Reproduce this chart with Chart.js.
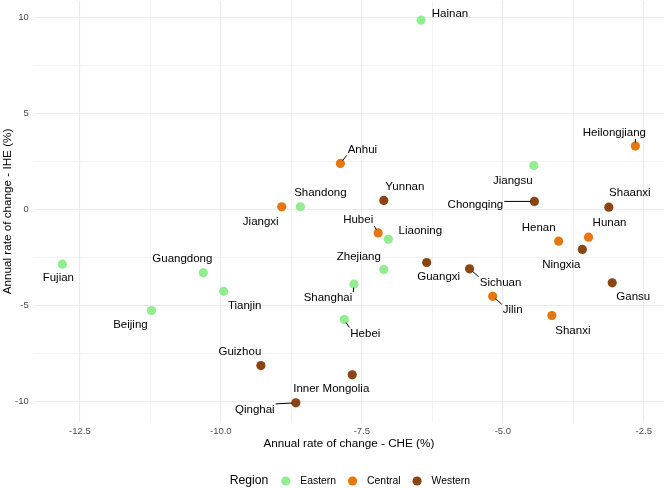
<!DOCTYPE html>
<html>
<head>
<meta charset="utf-8">
<script src="https://cdn.jsdelivr.net/npm/chart.js@4.4.0/dist/chart.umd.min.js"></script>
<style>
  html, body { margin: 0; padding: 0; background: #fff; }
</style>
</head>
<body>
<canvas id="chart" width="666" height="488"></canvas>
<script>
// values
const provinces = ['Hainan', 'Heilongjiang', 'Anhui', 'Jiangsu', 'Yunnan', 'Chongqing', 'Shaanxi',
  'Jiangxi', 'Shandong', 'Hubei', 'Liaoning', 'Henan', 'Hunan', 'Ningxia', 'Fujian', 'Guangdong',
  'Zhejiang', 'Guangxi', 'Sichuan', 'Gansu', 'Shanghai', 'Tianjin', 'Jilin', 'Beijing', 'Shanxi',
  'Hebei', 'Guizhou', 'Inner Mongolia', 'Qinghai'];
const region = ['Eastern', 'Central', 'Central', 'Eastern', 'Western', 'Western', 'Western',
  'Central', 'Eastern', 'Central', 'Eastern', 'Central', 'Central', 'Western', 'Eastern', 'Eastern',
  'Eastern', 'Western', 'Western', 'Western', 'Eastern', 'Eastern', 'Central', 'Eastern', 'Central',
  'Eastern', 'Western', 'Western', 'Western'];
const che = [-6.45, -2.65, -7.88, -4.45, -7.11, -4.44, -3.12,
  -8.92, -8.59, -7.21, -7.03, -4.01, -3.48, -3.59, -12.81, -10.31,
  -7.11, -6.35, -5.59, -3.06, -7.64, -9.95, -5.18, -11.23, -4.13,
  -7.81, -9.29, -7.67, -8.67];
const ihe = [9.86, 3.30, 2.40, 2.29, 0.47, 0.42, 0.12,
  0.14, 0.14, -1.22, -1.55, -1.65, -1.44, -2.08, -2.85, -3.30,
  -3.13, -2.76, -3.09, -3.82, -3.89, -4.26, -4.52, -5.26, -5.52,
  -5.73, -8.13, -8.61, -10.07];

const regionNames = ['Eastern', 'Central', 'Western'];
const regionColors = ['#90EE90', '#E8760F', '#8B4513'];
const xTickLabels = [-12.5, -10, -7.5, -5, -2.5];
const yTickLabels = [-10, -5, 0, 5, 10];

// label placement (pixel offset of text centre from the point), like ggrepel output
const labelOffsets = {
  'Hainan': [29, -6], 'Heilongjiang': [-21, -13, true], 'Anhui': [22, -14, true],
  'Jiangsu': [-21, 15], 'Yunnan': [21, -14], 'Chongqing': [-59, 3, true],
  'Shaanxi': [21, -14], 'Jiangxi': [-21, 15], 'Shandong': [20, -14],
  'Hubei': [-20, -13, true], 'Liaoning': [32, -8], 'Henan': [-20, -13],
  'Hunan': [21, -14], 'Ningxia': [-21, 15], 'Fujian': [-4, 14],
  'Guangdong': [-21, -14], 'Zhejiang': [-25, -13], 'Guangxi': [12, 14],
  'Sichuan': [31, 14, true], 'Gansu': [21, 14], 'Shanghai': [-26, 14, true],
  'Tianjin': [21, 15], 'Jilin': [20, 14, true], 'Beijing': [-21, 14],
  'Shanxi': [21, 15], 'Hebei': [21, 14, true], 'Guizhou': [-21, -14],
  'Inner Mongolia': [-21, 14], 'Qinghai': [-41, 7, true]
};

const FONT = "'Liberation Sans', Arial, sans-serif";
const POINT_R = 4.6;

// ggplot style 5% expansion
function expand(vals) {
  const lo = Math.min(...vals), hi = Math.max(...vals);
  const pad = (hi - lo) * 0.05;
  return [lo - pad, hi + pad];
}
const [xMin, xMax] = expand(che);
const [yMin, yMax] = expand(ihe);

const isIn = (arr, v) => arr.some(t => Math.abs(t - v) < 1e-6);

const datasets = regionNames.map((r, k) => ({
  label: r,
  data: provinces.map((p, i) => ({ x: che[i], y: ihe[i], name: p, reg: region[i] }))
    .filter(d => d.reg === r),
  backgroundColor: regionColors[k],
  borderWidth: 0,
  pointRadius: POINT_R,
  pointHoverRadius: POINT_R
}));

const pointLabels = {
  id: 'pointLabels',
  afterDatasetsDraw(chart) {
    const ctx = chart.ctx;
    ctx.save();
    ctx.font = '11.5px ' + FONT;
    ctx.textAlign = 'center';
    ctx.textBaseline = 'middle';
    chart.data.datasets.forEach((ds, di) => {
      const meta = chart.getDatasetMeta(di);
      meta.data.forEach((el, i) => {
        const name = ds.data[i].name;
        const off = labelOffsets[name] || [0, -12];
        const tx = el.x + off[0], ty = el.y + off[1];
        if (off[2]) {
          const w = ctx.measureText(name).width / 2 + 1;
          const h = 6;
          const sx = Math.max(tx - w, Math.min(el.x, tx + w));
          const sy = Math.max(ty - h, Math.min(el.y, ty + h));
          const dx = el.x - sx, dy = el.y - sy;
          const len = Math.hypot(dx, dy);
          const ex = el.x - dx / len * (POINT_R - 1);
          const ey = el.y - dy / len * (POINT_R - 1);
          ctx.strokeStyle = '#000';
          ctx.lineWidth = 1;
          ctx.beginPath();
          ctx.moveTo(sx, sy);
          ctx.lineTo(ex, ey);
          ctx.stroke();
        }
        ctx.fillStyle = '#000';
        ctx.fillText(name, tx, ty);
      });
    });
    ctx.restore();
  }
};

// legend drawn under the axis title, ggplot style (title left of the keys)
const bottomLegend = {
  id: 'bottomLegend',
  afterDraw(chart) {
    const ctx = chart.ctx;
    const area = chart.chartArea;
    const y = 481;
    ctx.save();
    ctx.textBaseline = 'middle';
    ctx.textAlign = 'left';
    ctx.font = '12.2px ' + FONT;
    const titleW = ctx.measureText('Region').width;
    ctx.font = '10.4px ' + FONT;
    const items = chart.data.datasets.map(d => ({ text: d.label, color: d.backgroundColor, w: ctx.measureText(d.label).width }));
    const gapTitle = 13, key = 9, gapKey = 10, gapItem = 12;
    let total = titleW + gapTitle;
    items.forEach((it, i) => { total += key + gapKey + it.w + (i < items.length - 1 ? gapItem : 0); });
    let x = (area.left + area.right) / 2 - total / 2 + 1;
    ctx.fillStyle = '#000';
    ctx.font = '12.2px ' + FONT;
    ctx.fillText('Region', x, y);
    x += titleW + gapTitle;
    ctx.font = '10.4px ' + FONT;
    items.forEach(it => {
      ctx.fillStyle = it.color;
      ctx.beginPath();
      ctx.arc(x + key / 2, y, POINT_R, 0, Math.PI * 2);
      ctx.fill();
      x += key + gapKey;
      ctx.fillStyle = '#000';
      ctx.fillText(it.text, x, y);
      x += it.w + gapItem;
    });
    ctx.restore();
  }
};

new Chart(document.getElementById('chart').getContext('2d'), {
  type: 'scatter',
  data: { datasets },
  plugins: [pointLabels, bottomLegend],
  options: {
    responsive: false,
    animation: false,
    layout: { autoPadding: false, padding: { top: 1, right: 2, bottom: 33, left: 0 } },
    plugins: { legend: { display: false }, tooltip: { enabled: false } },
    scales: {
      x: {
        type: 'linear',
        min: xMin,
        max: xMax,
        afterFit: s => { s.height = 33; s.paddingLeft = 0; s.paddingRight = 0; },
        border: { display: false },
        grid: {
          color: '#ebebeb',
          lineWidth: c => (c.tick && isIn(xTickLabels, c.tick.value)) ? 1.1 : 0.6,
          drawTicks: false
        },
        ticks: {
          stepSize: 1.25,
          includeBounds: false,
          autoSkip: false,
          maxRotation: 0,
          maxTicksLimit: 30,
          padding: 4,
          color: '#4d4d4d',
          font: { family: FONT, size: 9.5 },
          callback: v => isIn(xTickLabels, v) ? v.toFixed(1) : ''
        },
        title: {
          display: true,
          text: 'Annual rate of change - CHE (%)',
          color: '#000',
          font: { family: FONT, size: 11.7 },
          padding: { top: 0, bottom: 4 }
        }
      },
      y: {
        type: 'linear',
        min: yMin,
        max: yMax,
        afterFit: s => { s.width = 33.7; s.paddingTop = 0; s.paddingBottom = 0; },
        border: { display: false },
        grid: {
          color: '#ebebeb',
          lineWidth: c => (c.tick && isIn(yTickLabels, c.tick.value)) ? 1.1 : 0.6,
          drawTicks: false
        },
        ticks: {
          stepSize: 2.5,
          includeBounds: false,
          autoSkip: false,
          maxTicksLimit: 30,
          padding: 5,
          color: '#4d4d4d',
          font: { family: FONT, size: 9.5 },
          callback: v => isIn(yTickLabels, v) ? String(v) : ''
        },
        title: {
          display: true,
          text: 'Annual rate of change - IHE (%)',
          color: '#000',
          font: { family: FONT, size: 11.7 },
          padding: { top: 1, bottom: 0 }
        }
      }
    }
  }
});
</script>
</body>
</html>
